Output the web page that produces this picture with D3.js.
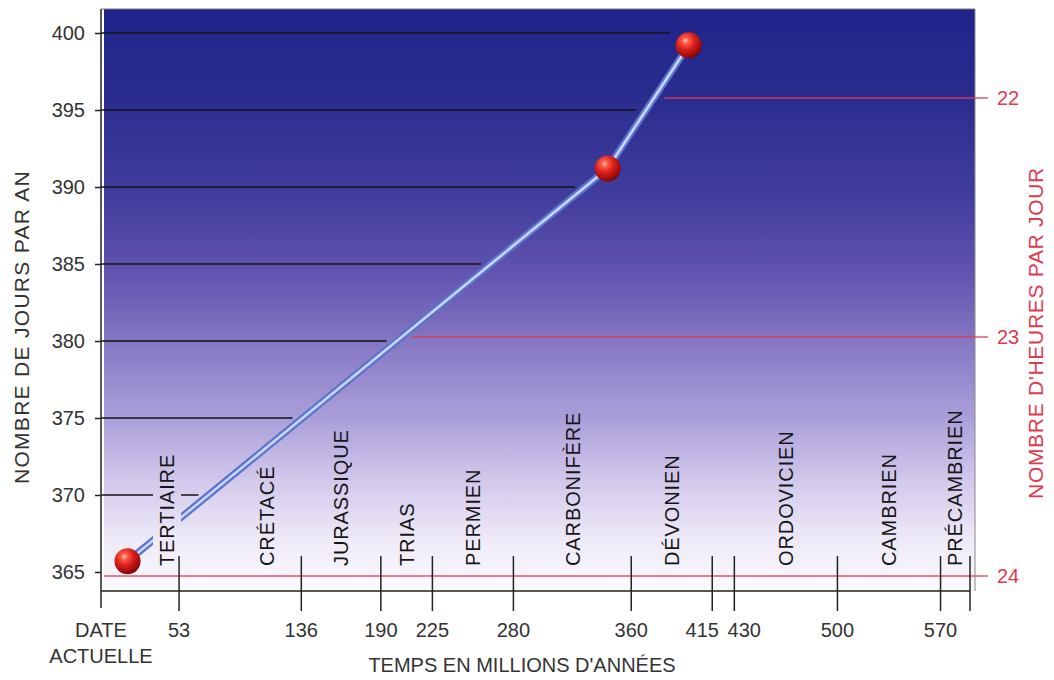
<!DOCTYPE html>
<html>
<head>
<meta charset="utf-8">
<script src="https://cdn.jsdelivr.net/npm/d3@7"></script>
<style>
  html, body { margin: 0; padding: 0; background: #ffffff; }
  svg { display: block; font-family: "Liberation Sans", Arial, Helvetica, sans-serif; }
</style>
</head>
<body>
<svg id="chart" width="1054" height="680"></svg>
<script>
// ---------- data ----------
const dayTicks = [365, 370, 375, 380, 385, 390, 395, 400];
const hourTicks = [22, 23, 24];
const ageTicks = [53, 136, 190, 225, 280, 360, 415, 430, 500, 570];
const eraNames = ["TERTIAIRE", "CRÉTACÉ", "JURASSIQUE", "TRIAS", "PERMIEN", "CARBONIFÈRE", "DÉVONIEN", "ORDOVICIEN", "CAMBRIEN", "PRÉCAMBRIEN"];
const eraStart = [0, 53, 136, 190, 225, 280, 360, 430, 500, 570];
const eraEnd   = [53, 136, 190, 225, 280, 360, 415, 500, 570, 590];
const pointAge  = [18, 344, 399];          // millions d'années
const pointDays = [365.7, 391.2, 399.2];   // jours par an

(function () {
// ---------- layout ----------
const svg = d3.select("#chart");
const W = 1054, H = 680;
const axisY = 591, topY = 9;

const x = d3.scaleLinear().domain([0, 590]).range([101, 970]);
const y = d3.scaleLinear().domain([365, 400]).range([572, 33]);
const yH = d3.scaleLinear().domain([24, 22]).range([576, 98]);

const defs = svg.append("defs");
const bg = defs.append("linearGradient").attr("id", "bg").attr("x1", 0).attr("y1", 0).attr("x2", 0).attr("y2", 1);
[[0, "#20238a"], [0.15, "#2a2d8e"], [0.33, "#433e9e"], [0.465, "#6556b1"], [0.585, "#897bc5"],
 [0.705, "#ab9fd9"], [0.81, "#d2c8eb"], [0.91, "#eee9f7"], [1, "#fbfafd"]]
  .forEach(([o, c]) => bg.append("stop").attr("offset", o).attr("stop-color", c));

const ball = defs.append("radialGradient").attr("id", "ball").attr("cx", "38%").attr("cy", "32%").attr("r", "70%");
[[0, "#ffc4b4"], [0.18, "#ff5a48"], [0.5, "#d8201a"], [0.85, "#a00c0c"], [1, "#780606"]]
  .forEach(([o, c]) => ball.append("stop").attr("offset", o).attr("stop-color", c));

// background panel
svg.append("rect").attr("x", x(0) + 3).attr("y", topY).attr("width", 975 - x(0) - 3).attr("height", axisY - topY)
  .attr("fill", "url(#bg)");
svg.append("line").attr("x1", x(0)).attr("x2", 975).attr("y1", topY).attr("y2", topY)
  .attr("stroke", "#777").attr("stroke-width", 1);
svg.append("line").attr("x1", 975).attr("x2", 975).attr("y1", topY).attr("y2", axisY)
  .attr("stroke", "#888").attr("stroke-width", 1);

// x position of the curve for a given number of days
const rBall = 13;
function curveX(v) {
  for (let i = 0; i < pointDays.length - 1; i++) {
    if (v >= pointDays[i] && v <= pointDays[i + 1]) {
      const t = (v - pointDays[i]) / (pointDays[i + 1] - pointDays[i]);
      return x(pointAge[i] + t * (pointAge[i + 1] - pointAge[i]));
    }
  }
  if (v > pointDays[pointDays.length - 1]) return x(pointAge[pointAge.length - 1]) - rBall + 4;
  return x(pointAge[0]);
}

const eraNudge = [27, 27, 0, 0, 0, 0, 0, 0, 0, 0];
const eraLabelX = eraNames.map((n, i) => x((eraStart[i] + eraEnd[i]) / 2) + eraNudge[i]);
const labelBottom = 566;

const mask = defs.append("mask").attr("id", "knock").attr("maskUnits", "userSpaceOnUse")
  .attr("x", 0).attr("y", 0).attr("width", W).attr("height", H);
mask.append("rect").attr("x", 0).attr("y", 0).attr("width", W).attr("height", H).attr("fill", "#fff");

const maskedG = svg.append("g").attr("mask", "url(#knock)");

// ---------- era labels ----------
const eraG = svg.append("g");
const eraTexts = eraG.selectAll("text").data(eraNames).join("text")
  .attr("transform", (d, i) => `translate(${eraLabelX[i]},${labelBottom}) rotate(-90)`)
  .attr("dy", "0.36em")
  .attr("font-size", 20)
  .attr("letter-spacing", 0.9)
  .attr("fill", "#161616")
  .text(d => d);

eraTexts.each(function (d, i) {
  const bb = this.getBBox();
  const cx = eraLabelX[i];
  mask.append("rect")
    .attr("x", cx - bb.height / 2 - 3).attr("y", labelBottom - bb.width - 3)
    .attr("width", bb.height + 6).attr("height", bb.width + 6).attr("fill", "#000");
});

// ---------- gridlines (stop at the curve) ----------
maskedG.selectAll("line.grid").data(dayTicks.filter(v => v > 365)).join("line")
  .attr("class", "grid")
  .attr("x1", x(0)).attr("x2", v => curveX(v) - 10)
  .attr("y1", v => y(v)).attr("y2", v => y(v))
  .attr("stroke", "#151515").attr("stroke-width", 1.6);

// hour lines (red)
const red = "#e03a50";
maskedG.selectAll("line.hour").data(hourTicks).join("line")
  .attr("class", "hour")
  .attr("x1", h => h === 24 ? x(0) + 3 : curveX(y.invert(yH(h))) + 10)
  .attr("x2", 988)
  .attr("y1", h => yH(h)).attr("y2", h => yH(h))
  .attr("stroke", red).attr("stroke-opacity", 0.85).attr("stroke-width", 1.6);

// ---------- curve ----------
const pts = pointAge.map((a, i) => [x(a), y(pointDays[i])]);
const lineGen = d3.line();
maskedG.append("path").attr("d", lineGen(pts)).attr("fill", "none")
  .attr("stroke", "#5874cc").attr("stroke-width", 7).attr("stroke-linejoin", "round");
maskedG.append("path").attr("d", lineGen(pts)).attr("fill", "none")
  .attr("stroke", "#c8d5ff").attr("stroke-width", 2.6).attr("stroke-linejoin", "round");

// balls
svg.selectAll("circle.pt").data(pts).join("circle")
  .attr("class", "pt")
  .attr("cx", d => d[0]).attr("cy", d => d[1]).attr("r", rBall)
  .attr("fill", "url(#ball)");

// ---------- left axis ----------
svg.append("line").attr("x1", x(0)).attr("x2", x(0)).attr("y1", topY).attr("y2", 608)
  .attr("stroke", "#222").attr("stroke-width", 1.5);
const yAxis = d3.axisLeft(y).tickValues(dayTicks).tickSize(6).tickPadding(10).tickFormat(d3.format("d"));
const yAxG = svg.append("g").attr("transform", `translate(${x(0)},0)`).call(yAxis);
yAxG.select(".domain").remove();
yAxG.selectAll(".tick line").attr("stroke", "#222").attr("stroke-width", 1.5);
yAxG.selectAll(".tick text").attr("font-size", 20).attr("fill", "#333").attr("font-family", "Liberation Sans, Arial, sans-serif");

// right axis labels
svg.selectAll("text.hlab").data(hourTicks).join("text")
  .attr("class", "hlab")
  .attr("x", 997).attr("y", h => yH(h)).attr("dy", "0.36em")
  .attr("font-size", 20).attr("fill", red)
  .text(d => d);

// ---------- bottom axis ----------
svg.append("line").attr("x1", x(0)).attr("x2", x(590)).attr("y1", axisY).attr("y2", axisY)
  .attr("stroke", "#222").attr("stroke-width", 1.5);
svg.selectAll("line.xt").data(ageTicks.concat([590])).join("line")
  .attr("class", "xt")
  .attr("x1", d => x(d)).attr("x2", d => x(d))
  .attr("y1", 556).attr("y2", 611)
  .attr("stroke", "#222").attr("stroke-width", 1.5);

// tick labels, pushed apart where two ticks are close together
const minGap = 42;
const labX = ageTicks.map(d => x(d));
for (let i = 0; i < labX.length - 1; i++) {
  const gap = labX[i + 1] - labX[i];
  if (gap < minGap) { const s = (minGap - gap) / 2; labX[i] -= s; labX[i + 1] += s; }
}
svg.selectAll("text.xl").data(ageTicks).join("text")
  .attr("class", "xl")
  .attr("x", (d, i) => labX[i]).attr("y", 637)
  .attr("text-anchor", "middle").attr("font-size", 20).attr("fill", "#333")
  .text(d => d);
svg.append("text").attr("x", x(0)).attr("y", 637).attr("text-anchor", "middle")
  .attr("font-size", 20).attr("fill", "#333").text("DATE");
svg.append("text").attr("x", x(0)).attr("y", 663).attr("text-anchor", "middle")
  .attr("font-size", 20).attr("fill", "#333").text("ACTUELLE");

// ---------- titles ----------
svg.append("text").attr("x", 522).attr("y", 672).attr("text-anchor", "middle")
  .attr("font-size", 20).attr("fill", "#333").text("TEMPS EN MILLIONS D'ANNÉES");
svg.append("text").attr("transform", "translate(21,327) rotate(-90)").attr("dy", "0.36em")
  .attr("text-anchor", "middle").attr("font-size", 21).attr("letter-spacing", 1.3).attr("fill", "#333")
  .text("NOMBRE DE JOURS PAR AN");
svg.append("text").attr("transform", "translate(1035,333) rotate(-90)").attr("dy", "0.36em")
  .attr("text-anchor", "middle").attr("font-size", 21).attr("letter-spacing", 0.7).attr("fill", red)
  .text("NOMBRE D'HEURES PAR JOUR");
})();
</script>
</body>
</html>
